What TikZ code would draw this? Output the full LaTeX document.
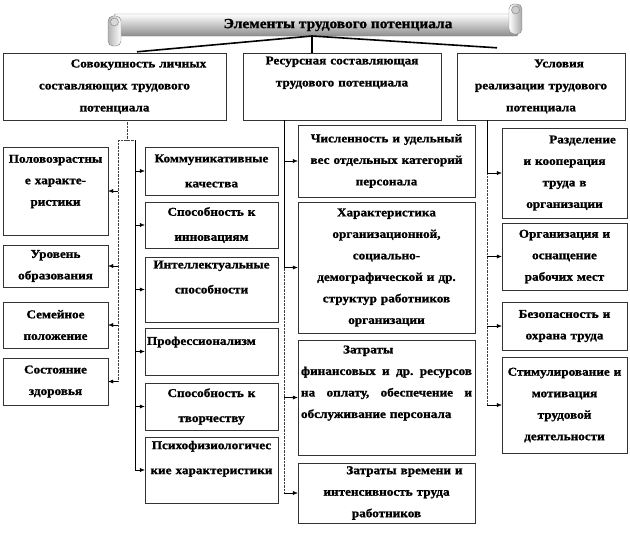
\documentclass[tikz,border=0pt]{standalone}
\usepackage{fontspec}
\setmainfont{Liberation Serif}[FakeStretch=1.1, BoldFeatures={FakeBold=1.2}]
\usetikzlibrary{arrows.meta,shadows,calc}
\begin{document}
\begin{tikzpicture}[x=1pt,y=-1pt,
    elbox/.style={draw=black!80, thin, fill=white, align=center, inner sep=1pt,
      font=\bfseries\fontsize{12}{21.5}\selectfont,
      drop shadow={shadow xshift=1.2pt,shadow yshift=-1.2pt,fill=black!40}},
    wide/.style={font=\bfseries\fontsize{12}{25}\selectfont},
    link/.style={draw=black, thin},
    dlink/.style={draw=black!75, densely dotted, thin},
    arr/.style={-{Latex[length=5pt,width=4pt]}, thin}]
  \useasboundingbox (0,0) rectangle (630,536);

  % banner
  \draw[draw=black!50, top color=white, bottom color=black!45, rounded corners=2pt] (114,14) rectangle (518,36);
  \draw[draw=black!50, left color=black!30, right color=white, rounded corners=5pt] (108,16) rectangle (121,46);
  \draw[draw=black!50, fill=black!15] (114.5,22) circle (4);
  \draw[draw=black!50, left color=white, right color=black!35, rounded corners=5pt] (509,4) rectangle (522,34);
  \draw[draw=black!50, fill=black!20] (515.5,10) circle (4);
  \node[font=\bfseries\fontsize{14}{16}\selectfont] (banner) at (338,25) {Элементы трудового потенциала};
  \coordinate (hub) at (312,36);

  % top boxes
  \node[elbox, minimum width=223pt, minimum height=67pt, text width=215pt, font=\bfseries\fontsize{12}{22}\selectfont] (lich) at (114.5,86.5)
    {\hspace*{4em}Совокупность личных\\ составляющих трудового\\ потенциала};
  \node[elbox, minimum width=198pt, minimum height=67pt, text width=190pt, font=\bfseries\fontsize{12}{22}\selectfont] (res) at (342,86.5)
    {Ресурсная составляющая\\ трудового потенциала\\[8pt] ~};
  \node[elbox, minimum width=168pt, minimum height=67pt, text width=160pt, font=\bfseries\fontsize{12}{22}\selectfont] (usl) at (541,86.5)
    {\hspace*{3em}Условия\\ реализации трудового\\ потенциала};

  \draw[line width=1.6pt] (hub) -- ($(lich.north)+(22.5,-1)$);
  \draw[line width=1.6pt] (hub) -- (hub |- res.north);
  \draw[line width=1.6pt] (hub) -- ($(usl.north)+(-44,-5)$);

  % personal components
  \node[elbox, minimum width=105pt, minimum height=88pt, text width=101pt] (pol) at (55.5,191)
    {Половозрастны\\ е характе-\\ ристики\\ ~};
  \node[elbox, minimum width=105pt, minimum height=42pt, text width=101pt] (ur) at (55.5,266) {Уровень\\ образования};
  \node[elbox, minimum width=105pt, minimum height=46pt, text width=101pt] (sem) at (55.5,325) {Семейное\\ положение};
  \node[elbox, minimum width=105pt, minimum height=47pt, text width=101pt] (sost) at (55.5,381.5) {Состояние\\ здоровья};

  \node[elbox, wide, minimum width=133pt, minimum height=48pt, text width=129pt] (kom) at (211.5,171) {Коммуникативные\\ качества};
  \node[elbox, wide, minimum width=133pt, minimum height=46pt, text width=129pt] (inn) at (211.5,225) {Способность к\\ инновациям};
  \node[elbox, wide, minimum width=133pt, minimum height=65pt, text width=129pt] (intel) at (211.5,289.5) {Интеллектуальные\\ способности\\ ~};
  \node[elbox, minimum width=133pt, minimum height=47pt, text width=129pt, align=left] (prof) at (211.5,351.5) {Профессионализм\\ ~};
  \node[elbox, wide, minimum width=133pt, minimum height=47pt, text width=129pt] (tvor) at (211.5,406.5) {Способность к\\ творчеству};
  \node[elbox, wide, minimum width=133pt, minimum height=66pt, text width=129pt] (psy) at (211.5,470) {Психофизиологичес\\ кие характеристики\\ ~};

  \coordinate (ldrop) at (127,140);
  \coordinate (lt) at (118,140);
  \coordinate (rt) at (135,140);
  \draw[dlink] (ldrop |- lich.south) -- (ldrop);
  \draw[dlink] (lt) -- (rt);
  \draw[dlink] (lt) -- (lt |- sost.east);
  \draw[link] (rt) -- (rt |- psy.west);
  \foreach \b in {pol,ur,sem,sost} \draw[arr] (lt |- \b.east) -- (\b.east);
  \foreach \b in {kom,inn,intel,prof,tvor,psy} \draw[arr] (rt |- \b.west) -- (\b.west);

  % resource component
  \node[elbox, minimum width=177pt, minimum height=72pt, text width=171pt] (chis) at (386.5,161)
    {Численность и удельный\\ вес отдельных категорий\\ персонала};
  \node[elbox, minimum width=177pt, minimum height=131pt, text width=171pt] (har) at (386.5,267.5)
    {Характеристика\\ организационной,\\ социально-\\ демографической и др.\\ структур работников\\ организации};
  \node[elbox, minimum width=177pt, minimum height=115pt, text width=171pt, align=left] (zatf) at (386.5,397.5)
    {\hspace*{3.5em}Затраты\\ \makebox[171pt]{финансовых\hfill и\hfill др.\hfill ресурсов}\\ \makebox[171pt]{на\hfill оплату,\hfill обеспечение\hfill и}\\ обслуживание персонала\\[10pt] ~};
  \node[elbox, minimum width=177pt, minimum height=60pt, text width=171pt] (zatv) at (386.5,493)
    {\hspace*{3em}Затраты времени и\\ интенсивность труда\\ работников};

  \coordinate (mt) at (284,120);
  \draw[link] (mt) -- (mt |- har.west);
  \draw[dlink] (mt |- har.west) -- (mt |- zatv.west);
  \foreach \b in {chis,har,zatf,zatv} \draw[arr] (mt |- \b.west) -- (\b.west);

  % conditions
  \node[elbox, minimum width=125pt, minimum height=90pt, text width=119pt] (raz) at (564.5,173)
    {\hspace*{3em}Разделение\\ и кооперация\\ труда в\\ организации};
  \node[elbox, minimum width=125pt, minimum height=67pt, text width=119pt] (org) at (564.5,256.5) {Организация и\\ оснащение\\ рабочих мест};
  \node[elbox, minimum width=125pt, minimum height=48pt, text width=119pt] (bez) at (564.5,326) {Безопасность и\\ охрана труда};
  \node[elbox, minimum width=125pt, minimum height=96pt, text width=119pt] (stim) at (564.5,405)
    {Стимулирование и\\ мотивация\\ трудовой\\ деятельности};

  \coordinate (ut) at (487,120);
  \draw[link] (ut) -- (ut |- raz.west);
  \draw[dlink] (ut |- raz.west) -- (ut |- stim.west);
  \foreach \b in {raz,org,bez,stim} \draw[arr] (ut |- \b.west) -- (\b.west);
\end{tikzpicture}
\end{document}
